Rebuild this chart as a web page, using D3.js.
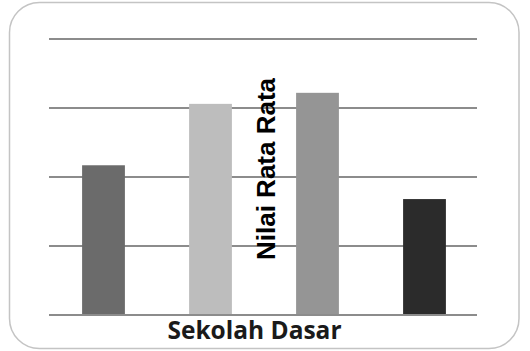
<!DOCTYPE html>
<html>
<head>
<meta charset="utf-8">
<script src="https://cdn.jsdelivr.net/npm/d3@7"></script>
<style>
  body { margin: 0; background: #fff; }
  svg { display: block; }
</style>
</head>
<body>
<div id="chart"></div>
<script>
// values (no tick labels shown, so 0..4 is assumed)
const categories = ['A', 'B', 'C', 'D'];
const values = [2.17, 3.06, 3.22, 1.68];
const barColors = ['#6b6b6b', '#bdbdbd', '#959595', '#2b2b2b'];
const yTicks = [0, 1, 2, 3, 4];
const xTitle = 'Sekolah Dasar';
const yTitle = 'Nilai Rata Rata';

const width = 530, height = 351;
const plot = { left: 49, right: 477, top: 39, bottom: 315 };

const svg = d3.select('#chart').append('svg')
    .attr('width', width)
    .attr('height', height);

// frame
svg.append('rect')
    .attr('x', 9.5).attr('y', 2.5)
    .attr('width', 509.5).attr('height', 346)
    .attr('rx', 30).attr('ry', 30)
    .attr('fill', '#fff')
    .attr('stroke', '#c4c4c4')
    .attr('stroke-width', 1.5);

const x = d3.scaleBand()
    .domain(categories)
    .range([plot.left, plot.right])
    .paddingInner(0.6)
    .paddingOuter(0.3);

const y = d3.scaleLinear()
    .domain([0, 4])
    .range([plot.bottom, plot.top]);

// gridlines
svg.append('g').attr('class', 'grid')
    .selectAll('line')
    .data(yTicks)
    .join('line')
    .attr('x1', plot.left).attr('x2', plot.right)
    .attr('y1', d => y(d)).attr('y2', d => y(d))
    .attr('stroke', '#8c8c8c')
    .attr('stroke-width', 2);

// bars
svg.append('g').attr('class', 'bars')
    .selectAll('rect')
    .data(values)
    .join('rect')
    .attr('x', (d, i) => x(categories[i]) + 1)
    .attr('width', x.bandwidth())
    .attr('y', d => y(d))
    .attr('height', d => y(0) - y(d) - 1)
    .attr('fill', (d, i) => barColors[i]);

// axis titles
svg.append('text')
    .attr('transform', 'translate(275, 169) rotate(-90)')
    .attr('text-anchor', 'middle')
    .style('font-family', '"Liberation Sans", Arial, sans-serif')
    .style('font-weight', 'bold')
    .style('font-size', '26px')
    .attr('fill', '#000')
    .text(yTitle);

svg.append('text')
    .attr('x', 254.5).attr('y', 338.5)
    .attr('text-anchor', 'middle')
    .style('font-family', '"Open Sans", Lato, sans-serif')
    .style('font-weight', 'bold')
    .style('font-size', '24.5px')
    .attr('fill', '#1a1a1a')
    .text(xTitle);
</script>
</body>
</html>
